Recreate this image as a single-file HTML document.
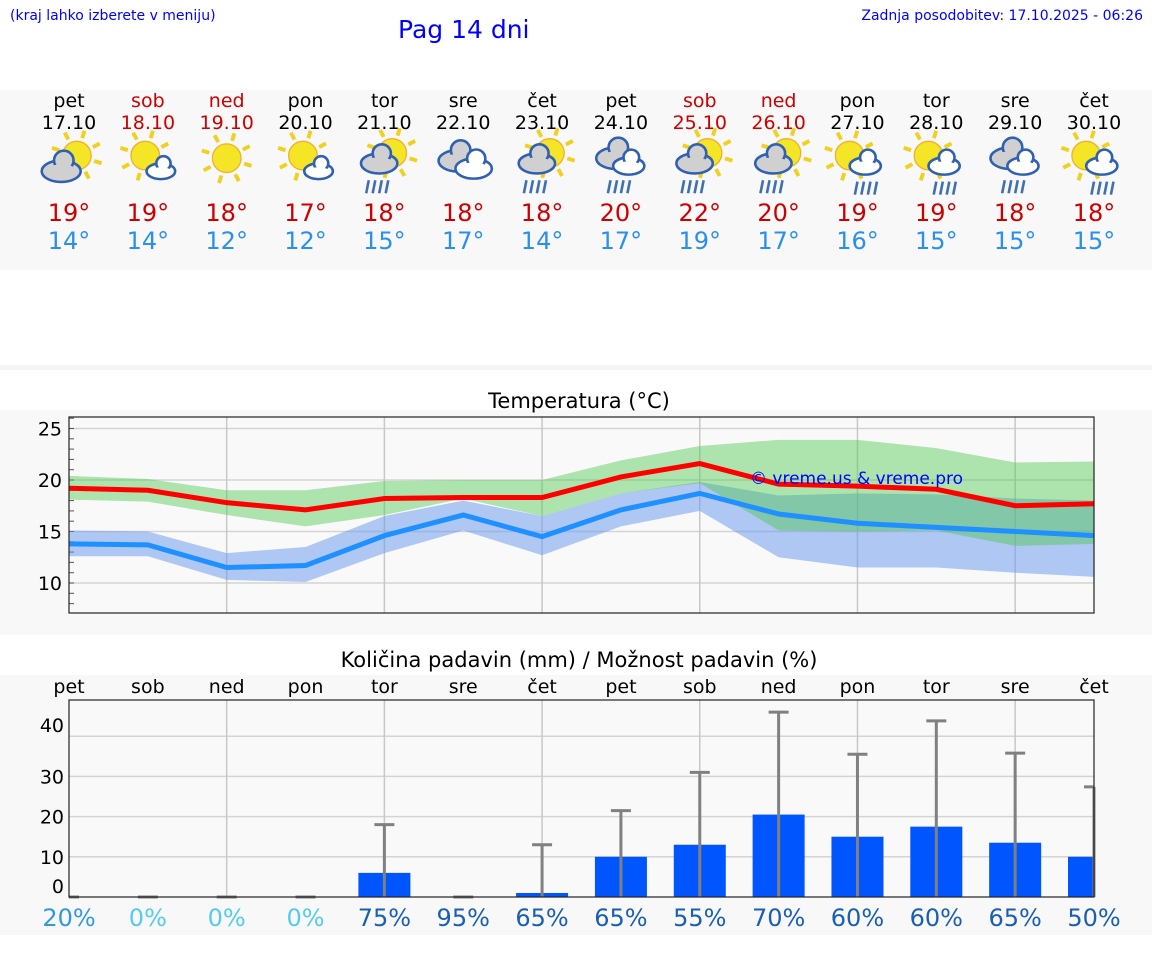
<!DOCTYPE html>
<html><head><meta charset="utf-8">
<style>
body{margin:0;width:1152px;height:975px;background:#fff;font-family:"DejaVu Sans","Liberation Sans",sans-serif;position:relative;overflow:hidden}
.abs{position:absolute}
</style></head>
<body>
<div class="abs" style="left:10px;top:8px;font-size:14px;color:#00f">(kraj lahko izberete v meniju)</div>
<div class="abs" style="left:398px;top:15px;font-size:25px;color:#00f">Pag 14 dni</div>
<div class="abs" style="right:9px;top:8px;font-size:14px;color:#00f">Zadnja posodobitev: 17.10.2025 - 06:26</div>
<div class="abs" style="left:0;top:90px;width:1152px;height:180px;background:#f8f8f8"></div>
<div class="abs" style="left:0;top:365px;width:1152px;height:5px;background:#f5f5f5"></div>
<div class="abs" style="left:0;top:410px;width:1152px;height:225px;background:#f8f8f8"></div>
<div class="abs" style="left:0;top:675px;width:1152px;height:260px;background:#f8f8f8"></div>
<svg class="abs" style="left:0;top:0" width="1152" height="975" id="svg"></svg>
<script>
const days=["pet","sob","ned","pon","tor","sre","čet","pet","sob","ned","pon","tor","sre","čet"];
const dates=["17.10","18.10","19.10","20.10","21.10","22.10","23.10","24.10","25.10","26.10","27.10","28.10","29.10","30.10"];
const weekend=[0,1,1,0,0,0,0,0,1,1,0,0,0,0];
const icons=["pc","ps","s","ps","pr","c","pr","cr","pr","pr","pl","pl","cr","pl"];
const dayMax=[19,19,18,17,18,18,18,20,22,20,19,19,18,18];
const dayMin=[14,14,12,12,15,17,14,17,19,17,16,15,15,15];
const tMax=[19.2,19.0,17.8,17.1,18.2,18.3,18.3,20.3,21.6,19.6,19.4,19.1,17.5,17.7];
const tMin=[13.8,13.7,11.5,11.7,14.6,16.6,14.5,17.1,18.7,16.7,15.8,15.4,15.0,14.6];
const maxHi=[20.4,20.1,19.0,19.0,19.9,20.0,20.0,21.9,23.3,23.9,23.9,23.1,21.7,21.8];
const maxLo=[18.1,17.9,16.6,15.5,16.6,18.2,16.5,18.7,19.7,15.1,15.0,15.1,13.6,13.8];
const minHi=[15.1,15.0,12.9,13.5,16.5,18.0,16.5,18.7,19.8,18.5,18.7,18.6,18.2,18.0];
const minLo=[12.6,12.6,10.3,10.1,12.9,15.1,12.7,15.5,17.0,12.5,11.5,11.5,11.0,10.6];
const tTicks=[10,15,20,25];
const precip=[0,0,0,0,6,0,1,10,13,20.5,15,17.5,13.5,10];
const precipMax=[0,0,0,0,18,0,13,21.5,31,46,35.5,43.8,35.8,27.4];
const chance=[20,0,0,0,75,95,65,65,55,70,60,60,65,50];
const pTicks=[0,10,20,30,40];

const NS="http://www.w3.org/2000/svg";
const svg=document.getElementById('svg');
function mk(tag,attrs,parent){const e=document.createElementNS(NS,tag);for(const k in attrs)e.setAttribute(k,attrs[k]);(parent||svg).appendChild(e);return e;}
function txt(x,y,s,size,fill,anchor){const t=mk('text',{x:x,y:y,'font-size':size,fill:fill,'text-anchor':anchor||'middle','font-family':'DejaVu Sans, Liberation Sans, sans-serif'});t.textContent=s;return t;}
const X=i=>69+i*(1094-69)/13;
const tY=v=>480-(v-20)*10.3;
const pY=v=>897-v*4.02;

days.forEach((d,i)=>{
  const cx=X(i);
  const col=weekend[i]?'#cc0000':'#000';
  let t=txt(cx,107,d,19,col);
  
  
  t=txt(cx,129,dates[i],19,col);
  
  
  const g=mk('g',{transform:`translate(${cx},166) scale(1.3)`});
  
  
  drawIcon(g,icons[i]);
  t=txt(cx,221,dayMax[i]+'°',24,'#cc0000');
  
  
  t=txt(cx,249,dayMin[i]+'°',24,'#2a8fef');
  
  
});
function sun(g,x,y,r){for(let k=0;k<8;k++){const a=k*Math.PI/4+0.3;mk('line',{x1:x+Math.cos(a)*(r+3),y1:y+Math.sin(a)*(r+3),x2:x+Math.cos(a)*(r+9),y2:y+Math.sin(a)*(r+9),stroke:'#f0d020','stroke-width':3},g);}mk('circle',{cx:x,cy:y,r:r,fill:'#f4e526',stroke:'#f0b030','stroke-width':1},g);}
function cl(g,x,y,w,fill){const h=w*0.55;mk('ellipse',{cx:x,cy:y,rx:w/2,ry:h/2,fill:fill,stroke:'#3060b0','stroke-width':2},g);mk('circle',{cx:x+2,cy:y-h/2,r:w*0.25,fill:fill,stroke:'#3060b0','stroke-width':2},g);mk('ellipse',{cx:x,cy:y+1,rx:w/2-2,ry:h/2-2,fill:fill},g);}
function rain(g,x,y){for(let k=0;k<4;k++)mk('line',{x1:x-8+k*5,y1:y,x2:x-10+k*5,y2:y+10,stroke:'#4070b0','stroke-width':2},g);}
function drawIcon(g,t){
  if(t=='s'){sun(g,0,-6,11);return;}
  if(t=='c'){cl(g,-4,-4,30,'#d0d0d0');cl(g,8,2,28,'#fff');return;}
  if(t=='pc'){sun(g,6,-8,11);cl(g,-6,4,30,'#d0d0d0');return;}
  if(t=='ps'){sun(g,-2,-8,11);cl(g,10,4,22,'#fff');return;}
  if(t=='pr'){sun(g,6,-10,11);cl(g,-4,-2,28,'#d0d0d0');rain(g,-4,11);return;}
  if(t=='pl'){sun(g,-6,-8,11);cl(g,6,0,24,'#fff');rain(g,8,12);return;}
  if(t=='cr'){cl(g,-4,-6,30,'#d0d0d0');cl(g,6,0,24,'#fff');rain(g,0,11);return;}
}

let t=txt(579,408,'Temperatura (°C)',21,'#000');


mk('rect',{x:69,y:417,width:1025,height:196,fill:'#f9f9f9'});
tTicks.forEach(v=>{mk('line',{x1:69,x2:1094,y1:tY(v),y2:tY(v),stroke:'#d4d4d4','stroke-width':1.5});
  const l=txt(62,tY(v)+7,String(v),19,'#000','end');
  
  });
for(let v=8;v<=26;v++){mk('line',{x1:69,x2:74,y1:tY(v),y2:tY(v),stroke:'#555','stroke-width':1});}
for(let i=2;i<13;i+=2)mk('line',{x1:X(i),x2:X(i),y1:417,y2:613,stroke:'#c8c8c8','stroke-width':1.5});
function band(hi,lo,fill,name){let d='';hi.forEach((v,i)=>d+=(i?'L':'M')+X(i)+','+tY(v));for(let i=lo.length-1;i>=0;i--)d+='L'+X(i)+','+tY(lo[i]);const p=mk('path',{d:d+'Z',fill:fill});}
band(minHi,minLo,'rgba(100,149,237,0.5)','min-temp-band');
band(maxHi,maxLo,'rgba(80,200,80,0.45)','max-temp-band');
function line(vals,col,name){const p=mk('polyline',{points:vals.map((v,i)=>X(i)+','+tY(v)).join(' '),fill:'none',stroke:col,'stroke-width':5});}
line(tMin,'#1e90ff','min-temp-line');
line(tMax,'#ff0000','max-temp-line');
mk('rect',{x:69,y:417,width:1025,height:196,fill:'none',stroke:'#222','stroke-width':1.2});
t=txt(750,484,'© vreme.us & vreme.pro',17,'#0000ff','start');



t=txt(579,667,'Količina padavin (mm) / Možnost padavin (%)',21,'#000');


mk('rect',{x:69,y:700,width:1025,height:197,fill:'#f9f9f9'});
pTicks.forEach(v=>{if(v>0)mk('line',{x1:69,x2:1094,y1:pY(v),y2:pY(v),stroke:'#d4d4d4','stroke-width':1.5});
  const off=v==0?-4:(v==40?-4:7);
  const l=txt(64,pY(v)+off,String(v),19,'#000','end');
  
  });
for(let i=2;i<13;i+=2)mk('line',{x1:X(i),x2:X(i),y1:700,y2:897,stroke:'#c8c8c8','stroke-width':1.5});
days.forEach((d,i)=>{const l=txt(X(i),693,d,19,'#000');
  
  });
precip.forEach((v,i)=>{
  const x=X(i);
  if(v>0){const b=mk('rect',{x:Math.max(x-26,69),y:pY(v),width:(i==13?1094-(x-26):52),height:897-pY(v),fill:'#0055ff'});
    
    }
  const e=mk('g',{});
  
  
  mk('line',{x1:x,x2:x,y1:pY(precipMax[i]),y2:897,stroke:'#808080','stroke-width':3},e);
  mk('line',{x1:Math.max(x-10,69),x2:Math.min(x+10,1094),y1:pY(precipMax[i]),y2:pY(precipMax[i]),stroke:'#808080','stroke-width':3},e);
  const c=chance[i];
  const col=c==0?'#55ccee':(c<=20?'#3399dd':'#1a5fb4');
  const l=txt(x,926,c+'%',24,col);
  
  
});
mk('rect',{x:69,y:700,width:1025,height:197,fill:'none',stroke:'#222','stroke-width':1.2});
</script>
</body></html>
